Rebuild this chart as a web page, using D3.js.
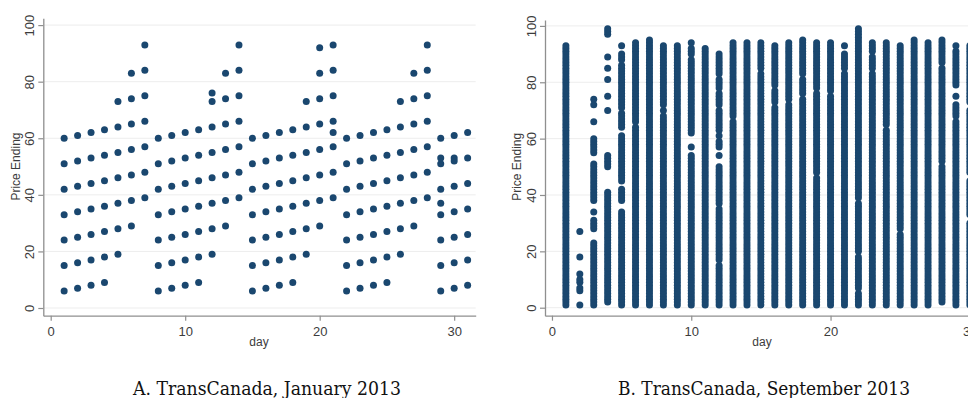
<!DOCTYPE html>
<html>
<head>
<meta charset="utf-8">
<script src="https://cdn.jsdelivr.net/npm/d3@7/dist/d3.min.js"></script>
<style>
  html, body { margin: 0; padding: 0; background: #ffffff; }
  svg { display: block; }
  .tick text { font-family: "Liberation Sans", Arial, sans-serif; }
</style>
</head>
<body>
<svg id="chart" width="968" height="398"></svg>
<script>
// ---- Data -------------------------------------------------------------
// Panel A: price endings (cents) posted on each day of January 2013.
const janDays = d3.range(1, 32);
const janEndings = [
  [6, 15, 24, 33, 42, 51, 60],            // 1
  [7, 16, 25, 34, 43, 52, 61],            // 2
  [8, 17, 26, 35, 44, 53, 62],            // 3
  [9, 18, 27, 36, 45, 54, 63],            // 4
  [19, 28, 37, 46, 55, 64, 73],           // 5
  [29, 38, 47, 56, 65, 74, 83],           // 6
  [39, 48, 57, 66, 75, 84, 93],           // 7
  [6, 15, 24, 33, 42, 51, 60],            // 8
  [7, 16, 25, 34, 43, 52, 61],            // 9
  [8, 17, 26, 35, 44, 53, 62],            // 10
  [9, 18, 27, 36, 45, 54, 63],            // 11
  [19, 28, 37, 46, 55, 64, 73, 76],       // 12
  [29, 38, 47, 56, 65, 74, 83],           // 13
  [39, 48, 57, 66, 75, 84, 93],           // 14
  [6, 15, 24, 33, 42, 51, 60],            // 15
  [7, 16, 25, 34, 43, 52, 61],            // 16
  [8, 17, 26, 35, 44, 53, 62],            // 17
  [9, 18, 27, 36, 45, 54, 63],            // 18
  [19, 28, 37, 46, 55, 64, 73],           // 19
  [29, 38, 47, 56, 65, 74, 83, 92],       // 20
  [39, 48, 57, 62, 66, 75, 84, 93],       // 21
  [6, 15, 24, 33, 42, 51, 60],            // 22
  [7, 16, 25, 34, 43, 52, 61],            // 23
  [8, 17, 26, 35, 44, 53, 62],            // 24
  [9, 18, 27, 36, 45, 54, 63],            // 25
  [19, 28, 37, 46, 55, 64, 73],           // 26
  [29, 38, 47, 56, 65, 74, 83],           // 27
  [39, 48, 57, 66, 75, 84, 93],           // 28
  [6, 15, 24, 33, 37, 42, 51, 53, 60],    // 29
  [7, 16, 25, 34, 43, 52, 53, 61],        // 30
  [8, 17, 26, 35, 44, 53, 62]             // 31
];

// Panel B: September 2013. Each day lists runs [from, to] of consecutive
// cent endings that were posted that day.
const sepDays = d3.range(1, 31);
const sepEndingRuns = [
  [[1, 93]],                                                            // 1
  [[1, 1], [6, 7], [9, 10], [12, 12], [18, 18], [27, 27]],              // 2
  [[1, 23], [28, 31], [34, 34], [38, 51], [55, 60], [66, 66], [72, 72], [74, 74]], // 3
  [[2, 41], [50, 54], [70, 70], [75, 75], [81, 81], [85, 85], [89, 89], [97, 99]], // 4
  [[1, 34], [38, 42], [45, 61], [64, 69], [71, 86], [88, 90], [93, 93]], // 5
  [[1, 64], [66, 94]],                                                  // 6
  [[1, 95]],                                                            // 7
  [[1, 68], [70, 70], [72, 93]],                                        // 8
  [[1, 93]],                                                            // 9
  [[1, 54], [57, 57], [62, 88], [90, 92], [94, 94]],                    // 10
  [[1, 92]],                                                            // 11
  [[1, 15], [17, 22], [23, 35], [37, 50], [54, 54], [57, 59], [61, 61], [63, 70], [72, 76], [78, 81], [83, 90]], // 12
  [[1, 66], [68, 94]],                                                  // 13
  [[1, 94]],                                                            // 14
  [[1, 83], [85, 94]],                                                  // 15
  [[1, 71], [73, 77], [79, 93]],                                        // 16
  [[1, 72], [74, 94]],                                                  // 17
  [[1, 74], [76, 81], [83, 95]],                                        // 18
  [[1, 46], [48, 76], [78, 94]],                                        // 19
  [[1, 75], [77, 94]],                                                  // 20
  [[1, 83], [85, 90], [93, 93]],                                        // 21
  [[1, 5], [7, 18], [20, 37], [39, 99]],                                // 22
  [[1, 83], [85, 89], [91, 94]],                                        // 23
  [[1, 63], [65, 94]],                                                  // 24
  [[1, 26], [28, 93]],                                                  // 25
  [[1, 95]],                                                            // 26
  [[1, 94]],                                                            // 27
  [[2, 50], [52, 85], [87, 95]],                                        // 28
  [[1, 66], [68, 72], [75, 75], [79, 91], [93, 93]],                    // 29
  [[1, 30], [33, 45], [48, 70], [73, 93]]                               // 30
];

const xTickValues = [0, 10, 20, 30];
const yTickValues = [0, 20, 40, 60, 80, 100];
const xTitle = "day";
const yTitle = "Price Ending";
const captions = ["A. TransCanada, January 2013", "B. TransCanada, September 2013"];

// ---- Points -----------------------------------------------------------
const janPoints = [];
janDays.forEach((d, i) => janEndings[i].forEach(v => janPoints.push({ day: d, end: v })));

const sepPoints = [];
sepDays.forEach((d, i) => sepEndingRuns[i].forEach(([a, b]) =>
  d3.range(a, b + 1).forEach(v => sepPoints.push({ day: d, end: v }))));

// ---- Drawing ----------------------------------------------------------
const svg = d3.select("#chart");
svg.append("rect").attr("width", 968).attr("height", 398).attr("fill", "#ffffff");

const navy = "#1a476f";
const axisGrey = "#8f8f8f";
const labelGrey = "#3c3c3c";

function panel(cfg) {
  const g = svg.append("g");
  const x = d3.scaleLinear().domain(cfg.xDomain).range(cfg.xRange);
  const y = d3.scaleLinear().domain(cfg.yDomain).range(cfg.yRange);

  // horizontal grid
  g.append("g").selectAll("line").data(yTickValues).join("line")
    .attr("x1", cfg.xRange[0]).attr("x2", cfg.xRange[1])
    .attr("y1", d => y(d)).attr("y2", d => y(d))
    .attr("stroke", "#ededed").attr("stroke-width", 1);

  // markers
  g.append("g").selectAll("circle").data(cfg.points).join("circle")
    .attr("cx", d => x(d.day)).attr("cy", d => y(d.end))
    .attr("r", 3.5).attr("fill", navy);

  // x axis
  const xa = g.append("g").attr("transform", `translate(0,${cfg.yRange[0]})`)
    .call(d3.axisBottom(x).tickValues(xTickValues).tickSize(5).tickSizeOuter(0).tickPadding(6));
  xa.select(".domain").attr("stroke", axisGrey).attr("stroke-width", 1.3);
  xa.selectAll(".tick line").attr("stroke", axisGrey).attr("stroke-width", 1.2);
  xa.selectAll(".tick text").attr("fill", labelGrey).attr("font-size", 13);

  // y axis with rotated labels
  const ya = g.append("g").attr("transform", `translate(${cfg.xRange[0]},0)`)
    .call(d3.axisLeft(y).tickValues(yTickValues).tickSize(5).tickSizeOuter(0));
  ya.select(".domain").attr("stroke", axisGrey).attr("stroke-width", 1.3);
  ya.selectAll(".tick line").attr("stroke", axisGrey).attr("stroke-width", 1.2);
  ya.selectAll(".tick text")
    .attr("x", null).attr("dy", null)
    .attr("text-anchor", "middle")
    .attr("transform", "translate(-9.5,0) rotate(-90)")
    .attr("fill", labelGrey).attr("font-size", 13);

  // axis titles
  g.append("text")
    .attr("transform", `translate(${cfg.xRange[0] - 23.8},${(y(0) + y(100)) / 2}) rotate(-90)`)
    .attr("text-anchor", "middle")
    .attr("font-family", "'Liberation Sans', Arial, sans-serif")
    .attr("font-size", 12).attr("fill", labelGrey)
    .text(yTitle);
  g.append("text")
    .attr("x", cfg.dayX).attr("y", 345.5)
    .attr("text-anchor", "middle")
    .attr("font-family", "'Liberation Sans', Arial, sans-serif")
    .attr("font-size", 12).attr("fill", labelGrey)
    .text(xTitle);

  // caption
  g.append("text")
    .attr("x", cfg.capX).attr("y", 394.5)
    .attr("text-anchor", "middle")
    .attr("font-family", "'DejaVu Serif Condensed', 'DejaVu Serif', serif")
    .attr("font-size", 18).attr("fill", "#111111")
    .attr("textLength", cfg.capLen).attr("lengthAdjust", "spacingAndGlyphs")
    .text(cfg.caption);
}

panel({
  xDomain: [-0.55, 31.6], xRange: [43.3, 475.7],
  yDomain: [-2.72, 102.4], yRange: [315.7, 18.3],
  points: janPoints, dayX: 259, capX: 267, capLen: 268, caption: captions[0]
});

panel({
  xDomain: [-0.5, 32.0], xRange: [545, 997.7],
  yDomain: [-2.84, 102.1], yRange: [315.7, 20],
  points: sepPoints, dayX: 762, capX: 764, capLen: 292, caption: captions[1]
});
</script>
</body>
</html>
